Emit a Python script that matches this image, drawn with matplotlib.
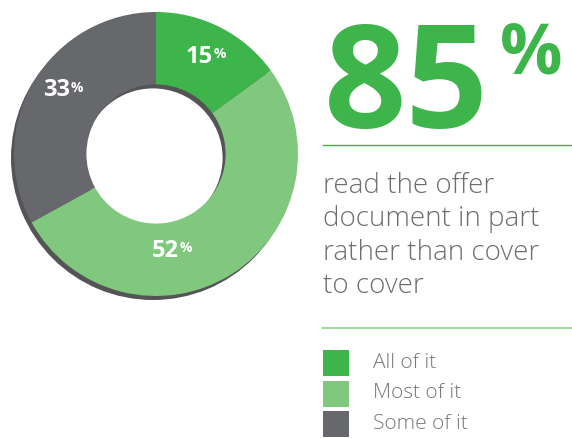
import numpy as np
import matplotlib
matplotlib.use("Agg")
import matplotlib.pyplot as plt
from matplotlib.patches import Rectangle

# how much of the offer document was read
categories = ["All of it", "Most of it", "Some of it"]
shares = [15, 52, 33]
headline = "85"
caption = ["read the offer", "document in part", "rather than cover", "to cover"]

colors = ["#3db54a", "#80c87e", "#67686c"]
shadow_color = "#545457"
text_gray = "#6d6e71"

W, H = 572, 438
fig = plt.figure(figsize=(W / 100, H / 100), dpi=100)
plt.rcParams["font.family"] = ["Open Sans", "DejaVu Sans"]

# overlay in pixel coordinates for the text block and legend
ov = fig.add_axes([0, 0, 1, 1])
ov.set_xlim(0, W)
ov.set_ylim(H, 0)
ov.axis("off")

# donut
cx, cy, half = 156, 154, 150
pax = fig.add_axes([(cx - half) / W, (H - cy - half) / H, 2 * half / W, 2 * half / H])
R = 142 / half
ring = 0.51 * R
pax.pie([1], radius=R, colors=[shadow_color], center=(-3 / half, -4 / half),
        wedgeprops=dict(width=ring, linewidth=0))
wedges, _ = pax.pie(shares, radius=R, colors=colors, startangle=90, counterclock=False,
                    wedgeprops=dict(width=ring, linewidth=0))
pax.set_xlim(-1, 1)
pax.set_ylim(-1, 1)
pax.set_aspect("equal")
pax.axis("off")

# label placement: angle shift from wedge middle, and radius
label_shift = [-2, -21, -5]
label_r = [0.74, 0.66, 0.73]
for w, v, sh, lr in zip(wedges, shares, label_shift, label_r):
    a = np.deg2rad((w.theta1 + w.theta2) / 2 + sh)
    t = pax.text(lr * np.cos(a) - 0.07, lr * np.sin(a), str(v), color="white",
                 fontsize=17, fontweight="bold", ha="center", va="center")
    pax.annotate("%", xy=(1, 0.9), xycoords=t, xytext=(0.5, 0), textcoords="offset points",
                 color="white", fontsize=10, fontweight="bold", ha="left", va="top")

# headline figure
t85 = ov.text(324, 128, headline, color=colors[0], fontsize=104, fontweight="bold",
              ha="left", va="baseline")
ov.annotate("%", xy=(1, 1), xycoords=t85, xytext=(8, -1), textcoords="offset points",
            color=colors[0], fontsize=50, fontweight="bold", ha="left", va="top")
ov.plot([323, W], [145, 145], color=colors[0], lw=1.0)

for i, line in enumerate(caption):
    ov.text(323, 193 + i * 33.3, line, color=text_gray, fontsize=20, fontweight="light",
            ha="left", va="baseline")
ov.plot([323, W], [328, 328], color="#a6d9a2", lw=1.6)

# legend
for i, (c, lab) in enumerate(zip(colors, categories)):
    y0 = 350 + i * 30.5
    ov.add_patch(Rectangle((323, y0), 26, 26, color=c, lw=0))
    ov.text(373, y0 + 13, lab, color="#77787b", fontsize=15, fontweight="light",
            ha="left", va="center")

fig.savefig("out.png", dpi=100)
